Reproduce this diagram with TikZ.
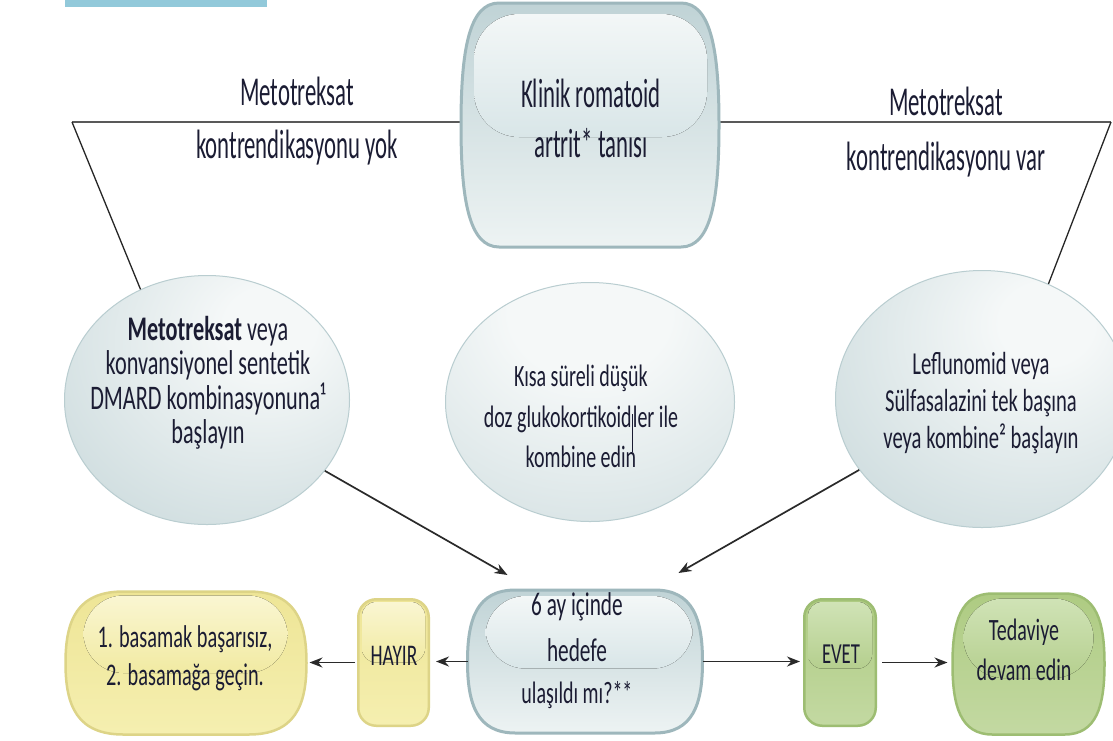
\documentclass[tikz,border=0pt]{standalone}
\usepackage{fontspec}
\setmainfont{Carlito}
\newfontfamily\fa{Carlito}[FakeStretch=0.555]
\newfontfamily\fb{Carlito}[FakeStretch=0.645]
\usetikzlibrary{arrows.meta,calc,shapes.geometric}

\definecolor{txtc}{HTML}{1B1C33}
\definecolor{barc}{HTML}{92C9DA}
\definecolor{blueRim}{HTML}{9EB7BC}
\definecolor{blueTop}{HTML}{C0D3D6}
\definecolor{blueBot}{HTML}{EDF3F3}
\definecolor{bhlTop}{HTML}{F3F7F7}
\definecolor{bhlBot}{HTML}{D9E6E8}
\definecolor{yelRim}{HTML}{DDD487}
\definecolor{yelTop}{HTML}{EEE596}
\definecolor{yelBot}{HTML}{F5EFB0}
\definecolor{yhlTop}{HTML}{FAF6D2}
\definecolor{yhlBot}{HTML}{F1EAA2}
\definecolor{grnRim}{HTML}{9DBD72}
\definecolor{grnTop}{HTML}{AECB82}
\definecolor{grnBot}{HTML}{C3D9A2}
\definecolor{ghlTop}{HTML}{D0E3B6}
\definecolor{ghlBot}{HTML}{B5CF8E}
\definecolor{orbA}{HTML}{F5F8F8}
\definecolor{orbB}{HTML}{CFDDDF}
\definecolor{orbC}{HTML}{A9C0C4}
\definecolor{orbD}{HTML}{BCCFD2}
\definecolor{orbRim}{HTML}{B9CDD0}
\definecolor{arrc}{HTML}{2A2A2A}
\definecolor{hlc}{HTML}{595959}

\pgfdeclareradialshading{orbside}{\pgfpoint{12bp}{16bp}}{color(0bp)=(orbA); color(8bp)=(orbA); color(40bp)=(orbB); color(60bp)=(orbC); color(100bp)=(orbC)}
\pgfdeclareradialshading{orbmid}{\pgfpoint{0bp}{22bp}}{color(0bp)=(orbA); color(14bp)=(orbA); color(50bp)=(orbB); color(72bp)=(orbD); color(100bp)=(orbD)}

% barrel outline around a (frameless) node: #1 node, #2 corner size, #3 style
\newcommand{\barrel}[3]{%
  \path[#3] ($(#1.north west)+(#2,0)$) -- ($(#1.north east)+(-#2,0)$)
    .. controls ($(#1.north east)+(-0.2*#2,0)$) and ($(#1.east)!0.6!(#1.north east)$) .. (#1.east)
    .. controls ($(#1.east)!0.6!(#1.south east)$) and ($(#1.south east)+(-0.2*#2,0)$) .. ($(#1.south east)+(-#2,0)$)
    -- ($(#1.south west)+(#2,0)$)
    .. controls ($(#1.south west)+(0.2*#2,0)$) and ($(#1.west)!0.6!(#1.south west)$) .. (#1.west)
    .. controls ($(#1.west)!0.6!(#1.north west)$) and ($(#1.north west)+(0.2*#2,0)$) .. cycle;}

\tikzset{
  ln/.style={anchor=base, inner sep=0pt, outer sep=0pt, text=txtc},
  frame/.style={rectangle, inner sep=0pt, outer sep=0pt},
  orb/.style={ellipse, draw=orbRim, line width=1pt, inner sep=0pt, shading=orbside},
  bfill/.style={draw=blueRim, line width=3pt, top color=blueTop, bottom color=blueBot},
  yfill/.style={draw=yelRim, line width=2.5pt, top color=yelTop, bottom color=yelBot},
  gfill/.style={draw=grnRim, line width=2.5pt, top color=grnTop, bottom color=grnBot},
  ybox/.style={rectangle, rounded corners=#1, yfill, inner sep=0pt},
  gbox/.style={rectangle, rounded corners=#1, gfill, inner sep=0pt},
  bhl/.style={top color=bhlTop, bottom color=bhlBot, rounded corners=#1},
  yhl/.style={top color=yhlTop, bottom color=yhlBot, rounded corners=#1},
  ghl/.style={top color=ghlTop, bottom color=ghlBot, rounded corners=#1},
  arr/.style={draw=arrc, line width=1.7pt, -{Stealth[length=13pt,width=10pt]}},
  hline/.style={draw=hlc, line width=2.8pt},
  dline/.style={draw=black!85, line width=1.3pt},
}

\begin{document}
\begin{tikzpicture}[x=1pt,y=-1pt]
\useasboundingbox (0,0) rectangle (1113,740);
\fill[white] (0,0) rectangle (1113,740);
\fill[barc] (65,0) rectangle (267,7);

% node frames
\node[frame, minimum width=258pt, minimum height=244pt] (top) at (590,125) {};
\node[frame, minimum width=235pt, minimum height=143pt] (q) at (585,661.5) {};
\node[frame, minimum width=241pt, minimum height=143pt] (y1) at (186,663) {};
\node[frame, minimum width=152pt, minimum height=141pt] (td) at (1028.5,664) {};

% connecting lines at top
\coordinate (cl) at (72,122);
\coordinate (cr) at (1111,122);
\draw[hline] (top.west |- cl) -- (cl);
\draw[hline] (top.east |- cr) -- (cr);

% shapes
\barrel{top}{38}{bfill}
\node[orb, minimum width=285pt, minimum height=249pt] (lc) at (207,400) {};
\node[orb, shading=orbmid, minimum width=289pt, minimum height=239pt] (cc) at (590,402) {};
\node[orb, minimum width=293pt, minimum height=257pt] (rc) at (982,399) {};
\draw[dline] (cl) -- (lc.121);
\draw[dline] (cr) -- (rc.60);
\barrel{y1}{58}{yfill}
\node[ybox=18pt, minimum width=70.5pt, minimum height=126.5pt] (hy) at (393.5,662.5) {};
\barrel{q}{48}{bfill}
\node[gbox=18pt, minimum width=71.5pt, minimum height=126.5pt] (ev) at (840,662.5) {};
\barrel{td}{40}{gfill}

% glossy highlights
\fill[bhl=45pt] ($(top.north west)+(13,11)$) rectangle ($(top.east)+(-12,12)$);
\fill[bhl=40pt] ($(q.north west)+(18,6)$) rectangle ($(q.east)+(-10,7)$);
\fill[yhl=40pt] ($(y1.north west)+(18,4)$) rectangle ($(y1.east)+(-19,10)$);
\fill[yhl=14pt] ($(hy.north west)+(5,4)$) rectangle ($(hy.east)+(-5,0)$);
\fill[ghl=14pt] ($(ev.north west)+(5,4)$) rectangle ($(ev.east)+(-5,6)$);
\fill[ghl=40pt] ($(td.north west)+(11,5)$) rectangle ($(td.east)+(-11,14)$);

% texts
\begin{scope}[every node/.append style={ln}]
\node[font=\fa\fontsize{41}{41}\selectfont] (t1) at (591,107) {Klinik romatoid};
\node[font=\fa\fontsize{41}{41}\selectfont] (t2) at (591,157) {artrit* tanısı};

\node[font=\fa\fontsize{41}{41}\selectfont] (l1) at (297,105) {Metotreksat};
\node[font=\fa\fontsize{41}{41}\selectfont] (l2) at (297,158) {kontrendikasyonu yok};
\node[font=\fa\fontsize{41}{41}\selectfont] (r1) at (946,115) {Metotreksat};
\node[font=\fa\fontsize{41}{41}\selectfont] (r2) at (946,170) {kontrendikasyonu var};

\node[font=\fb\fontsize{34.5}{34.5}\selectfont] (a1) at (208,340) {\textbf{Metotreksat} veya};
\node[font=\fb\fontsize{34.5}{34.5}\selectfont] (a2) at (208,374.5) {konvansiyonel sentetik};
\node[font=\fb\fontsize{34.5}{34.5}\selectfont] (a3) at (208,409) {DMARD kombinasyonuna¹};
\node[font=\fb\fontsize{34.5}{34.5}\selectfont] (a4) at (208,443.5) {başlayın};

\node[font=\fb\fontsize{31}{31}\selectfont] (b1) at (581,386) {Kısa süreli düşük};
\node[font=\fb\fontsize{31}{31}\selectfont] (b2) at (581,427) {doz glukokortikoid\rule[-25pt]{1.2pt}{38pt}ler ile};
\node[font=\fb\fontsize{31}{31}\selectfont] (b3) at (581,467) {kombine edin};

\node[font=\fb\fontsize{32}{32}\selectfont] (c1) at (981,374) {Leflunomid veya};
\node[font=\fb\fontsize{32}{32}\selectfont] (c2) at (981,411) {Sülfasalazini tek başına};
\node[font=\fb\fontsize{32}{32}\selectfont] (c3) at (981,448) {veya kombine² başlayın};

\node[font=\fb\fontsize{31.5}{31.5}\selectfont] (d1) at (185,647) {1. basamak başarısız,};
\node[font=\fb\fontsize{31.5}{31.5}\selectfont] (d2) at (185,685) {2. basamağa geçin.};

\node[font=\fb\fontsize{30}{30}\selectfont] (e1) at (394,665) {HAYIR};

\node[font=\fb\fontsize{33}{33}\selectfont] (f1) at (577,615) {6 ay içinde};
\node[font=\fb\fontsize{33}{33}\selectfont] (f2) at (577,661) {hedefe};
\node[font=\fb\fontsize{31}{31}\selectfont] (f3) at (577,703) {ulaşıldı mı?**};

\node[font=\fb\fontsize{29}{29}\selectfont] (g1) at (841,663) {EVET};

\node[font=\fb\fontsize{31}{31}\selectfont] (h1) at (1024,640) {Tedaviye};
\node[font=\fb\fontsize{31}{31}\selectfont] (h2) at (1024,680) {devam edin};
\end{scope}

% arrows
\draw[arr] (lc.-31) -- ($(q.north west)+(40,-15)$);
\draw[arr] (rc.-150) -- ($(q.north east)+(-24,-17)$);
\draw[arr, shorten >=6pt] (q.west) -- (q.west -| hy.east);
\draw[arr, shorten <=2pt, shorten >=3pt] (hy.west) -- (hy.west -| y1.east);
\draw[arr, shorten >=3pt] (q.east) -- (q.east -| ev.west);
\draw[arr, shorten <=5pt, shorten >=5pt] (ev.east) -- (ev.east -| td.west);
\end{tikzpicture}
\end{document}
